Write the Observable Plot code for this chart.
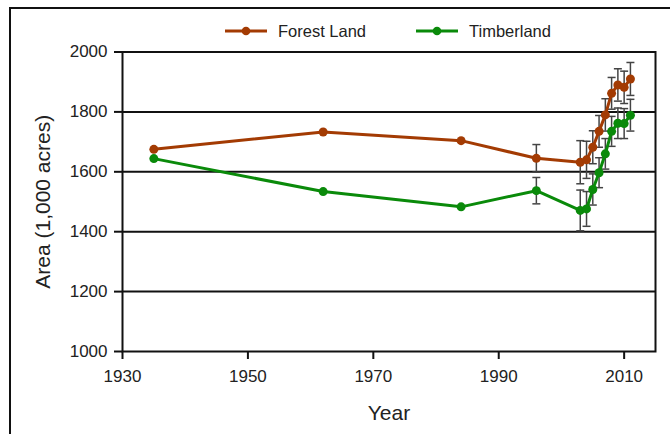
<!DOCTYPE html>
<html>
<head>
<meta charset="utf-8">
<script src="https://cdn.jsdelivr.net/npm/d3@7"></script>
<script src="https://cdn.jsdelivr.net/npm/@observablehq/plot@0.6"></script>
<style>
  html, body { margin: 0; padding: 0; background: #fff; }
  body { font-family: "Liberation Sans", Arial, sans-serif; }
  #wrap { position: relative; width: 670px; height: 434px; overflow: hidden; }
  #frame { position: absolute; left: 9px; top: 7px; width: 800px; height: 600px;
           border-top: 2px solid #111; border-left: 2px solid #111; pointer-events: none; }
  #legend { position: relative; height: 40px; width: 670px; }
  .item { position: absolute; top: 20px; height: 22px; display: flex; align-items: center;
          font-size: 16.5px; color: #222; }
  .item svg { margin-right: 11px; }
</style>
</head>
<body>
<div id="wrap">
  <div id="legend"></div>
  <div id="chart"></div>
  <div id="frame"></div>
</div>
<script>
const years = [1935, 1962, 1984, 1996, 2003, 2004, 2005, 2006, 2007, 2008, 2009, 2010, 2011];
const forestLand = [1675, 1733, 1704, 1645, 1632, 1640, 1682, 1735, 1790, 1862, 1890, 1882, 1910];
const timberland = [1644, 1534, 1483, 1537, 1471, 1476, 1541, 1597, 1660, 1735, 1762, 1761, 1789];
const forestErr = [null, null, null, 46, 72, 62, 55, 53, 54, 53, 54, 54, 55];
const timberErr = [null, null, null, 44, 68, 58, 52, 50, 51, 50, 51, 50, 53];
const seriesNames = ["Forest Land", "Timberland"];
const seriesColors = ["#a33b03", "#0a8a0a"];
const xTicks = [1930, 1950, 1970, 1990, 2010];
const yTicks = [1000, 1200, 1400, 1600, 1800, 2000];

const rows = [];
years.forEach((yr, i) => {
  rows.push({year: yr, value: forestLand[i], err: forestErr[i], series: seriesNames[0]});
  rows.push({year: yr, value: timberland[i], err: timberErr[i], series: seriesNames[1]});
});
const errRows = rows.filter(d => d.err != null);

const capSymbol = {
  draw(context, size) {
    const w = Math.sqrt(size / Math.PI);
    context.moveTo(-w, 0);
    context.lineTo(w, 0);
  }
};

// legend
const legend = document.getElementById("legend");
const legendX = [225, 416];
seriesNames.forEach((name, i) => {
  const div = document.createElement("div");
  div.className = "item";
  div.style.left = legendX[i] + "px";
  div.innerHTML = `<svg width="42" height="12"><line x1="0" x2="42" y1="6" y2="6" stroke="${seriesColors[i]}" stroke-width="3"/><circle cx="21" cy="6" r="4.3" fill="${seriesColors[i]}"/></svg><span>${name}</span>`;
  legend.appendChild(div);
});

const color = {domain: seriesNames, range: seriesColors};

const chart = Plot.plot({
  width: 670,
  height: 394,
  marginTop: 11.5,
  marginBottom: 83,
  marginLeft: 122,
  marginRight: 15,
  style: {fontFamily: '"Liberation Sans", Arial, sans-serif', fontSize: "17px", color: "#222", background: "white"},
  x: {domain: [1930, 2015]},
  y: {domain: [1000, 2000]},
  color,
  marks: [
    Plot.gridY(yTicks.slice(1), {stroke: "#111", strokeOpacity: 1, strokeWidth: 2}),
    Plot.frame({stroke: "#111", strokeWidth: 2}),
    Plot.axisX({ticks: xTicks, tickFormat: "d", tickSize: 8, tickPadding: 10, strokeWidth: 2, stroke: "#111", fontSize: 17, label: null}),
    Plot.axisX({ticks: [], label: "Year", labelAnchor: "center", labelArrow: "none", labelOffset: 68, fontSize: 21}),
    Plot.axisY({ticks: yTicks, tickFormat: "d", tickSize: 8, tickPadding: 7, strokeWidth: 2, stroke: "#111", fontSize: 17, label: null}),
    Plot.axisY({ticks: [], label: "Area (1,000 acres)", labelAnchor: "center", labelArrow: "none", labelOffset: 87, fontSize: 21}),
    Plot.ruleX(errRows, {x: "year", y1: d => d.value - d.err, y2: d => d.value + d.err, stroke: "#444", strokeWidth: 1.5}),
    Plot.dot(errRows, {x: "year", y: d => d.value - d.err, symbol: capSymbol, r: 4, stroke: "#444", strokeWidth: 1.5, fill: "none"}),
    Plot.dot(errRows, {x: "year", y: d => d.value + d.err, symbol: capSymbol, r: 4, stroke: "#444", strokeWidth: 1.5, fill: "none"}),
    Plot.line(rows, {x: "year", y: "value", z: "series", stroke: "series", strokeWidth: 3}),
    Plot.dot(rows, {x: "year", y: "value", fill: "series", r: 4.5, stroke: null})
  ]
});
document.getElementById("chart").appendChild(chart);
</script>
</body>
</html>
